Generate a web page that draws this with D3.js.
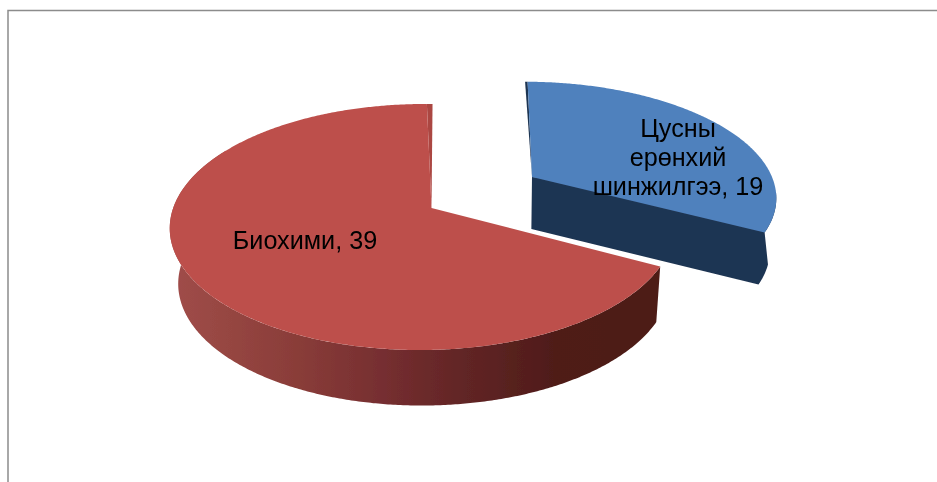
<!DOCTYPE html>
<html>
<head>
<meta charset="utf-8">
<script src="https://cdn.jsdelivr.net/npm/d3@7"></script>
<style>
  html, body { margin: 0; padding: 0; background: #fff; }
  svg { display: block; }
  text { font-family: "Liberation Sans", Arial, sans-serif; font-size: 25.2px; fill: #000; }
</style>
</head>
<body>
<svg id="chart" width="937" height="482"></svg>
<script>
const categories = ["Цусны ерөнхий шинжилгээ", "Биохими"];
const values = [19, 39];
const labelLines = [["Цусны", "ерөнхий", "шинжилгээ, 19"], ["Биохими, 39"]];

const width = 937;
const height = 482;
const deg = Math.PI / 180;

// each slice is a tilted disc: apex position, radii, skew and perspective
const slices = [
  { cx: 532, cy: 177, rx: 240, ry: 110, skew: 8, k: 0.1545, m: 0, depth: 52, insetStart: 0.7, insetEnd: 0,
    face: "#4f81bd", wall: "#1f3552", rim: "#1f3552", label: [678, 137], lineGap: 29 },
  { cx: 431.5, cy: 208, rx: 249, ry: 120, skew: -1.2, k: 0.1545, m: -0.036, depth: 55.5, insetStart: 0, insetEnd: 1.5,
    face: "#bd504c", wall: "url(#redWall)", rim: "#ab4642", label: [305, 248.5], lineGap: 29 }
];

const svg = d3.select("#chart");

const defs = svg.append("defs");
const grad = defs.append("linearGradient")
  .attr("id", "redWall")
  .attr("gradientUnits", "userSpaceOnUse")
  .attr("x1", 172).attr("x2", 662).attr("y1", 0).attr("y2", 0);
[[0, "#a04d49"], [0.25, "#8a3d39"], [0.42, "#772f31"], [0.6, "#612525"], [0.78, "#4f1c19"], [1, "#4d1b17"]]
  .forEach(s => grad.append("stop").attr("offset", s[0]).attr("stop-color", s[1]));

// the source is a slightly soft scan
defs.append("filter").attr("id", "soft")
  .append("feGaussianBlur").attr("stdDeviation", 0.45);

// frame: only top and left are drawn
svg.append("path")
  .attr("d", d3.line()([[8, height], [8, 10.5], [width, 10.5]]))
  .attr("fill", "none").attr("stroke", "#8c8c8c").attr("stroke-width", 1.5);

const arcs = d3.pie().sort(null).startAngle(0).endAngle(2 * Math.PI)(values);
const line = d3.line();
const chart = svg.append("g").attr("filter", "url(#soft)");

// disc point for angle a (clockwise from top)
function project(s, a) {
  const u = Math.sin(a);
  const v = -Math.cos(a);
  const d = 1 - s.k * v - s.m * u;
  return [s.cx + (s.rx * u + s.skew * v) / d, s.cy + s.ry * v / d];
}

// same point moved down to the bottom of the disc
function drop(s, p) {
  return [p[0] - 0.025 * (p[0] - 505) * (s.depth / 55), p[1] + s.depth];
}

function arcPoints(s, a0, a1) {
  const n = Math.max(2, Math.ceil(Math.abs(a1 - a0) / (0.5 * deg)));
  return d3.range(n + 1).map(i => project(s, a0 + (a1 - a0) * i / n));
}

// the slices sit apart, so red goes first and blue stays on its own
[1, 0].forEach(i => {
  const s = slices[i];
  const a = arcs[i];
  const g = chart.append("g").attr("class", "slice");
  const apex = [s.cx, s.cy];

  if (i === 0) {
    // blue: outer wall at the corner and cut wall as one shape, so no seam shows
    const rimTop = arcPoints(s, a.endAngle - 20 * deg, a.endAngle);
    const rimLow = arcPoints(s, a.endAngle - 10 * deg, a.endAngle).map(p => drop(s, p));
    g.append("path")
      .attr("d", line([apex].concat(rimTop, rimLow, [drop(s, apex)])) + "Z")
      .attr("fill", s.wall);
  } else {
    // red: curved wall along the front
    const top = arcPoints(s, a.startAngle, a.endAngle - 60 * deg);
    g.append("path")
      .attr("d", line(top.concat(top.map(p => drop(s, p)).reverse())) + "Z")
      .attr("fill", s.wall);
  }

  // thin visible edge beside the back cut
  const backA = i === 0 ? a.startAngle : a.endAngle;
  const backB = i === 0 ? a.startAngle + s.insetStart * deg : a.endAngle - s.insetEnd * deg;
  g.append("path")
    .attr("d", line([apex, project(s, backA), project(s, backB)]) + "Z")
    .attr("fill", s.rim);

  // top face
  const facePts = arcPoints(s, a.startAngle + s.insetStart * deg, a.endAngle - s.insetEnd * deg);
  g.append("path")
    .attr("d", line([apex].concat(facePts)) + "Z")
    .attr("fill", s.face);
});

// labels on top of both slices
slices.forEach((s, i) => {
  chart.append("text")
    .attr("text-anchor", "middle")
    .selectAll("tspan")
    .data(labelLines[i])
    .join("tspan")
    .attr("x", s.label[0])
    .attr("y", (d, j) => s.label[1] + j * s.lineGap)
    .text(d => d);
});
</script>
</body>
</html>
